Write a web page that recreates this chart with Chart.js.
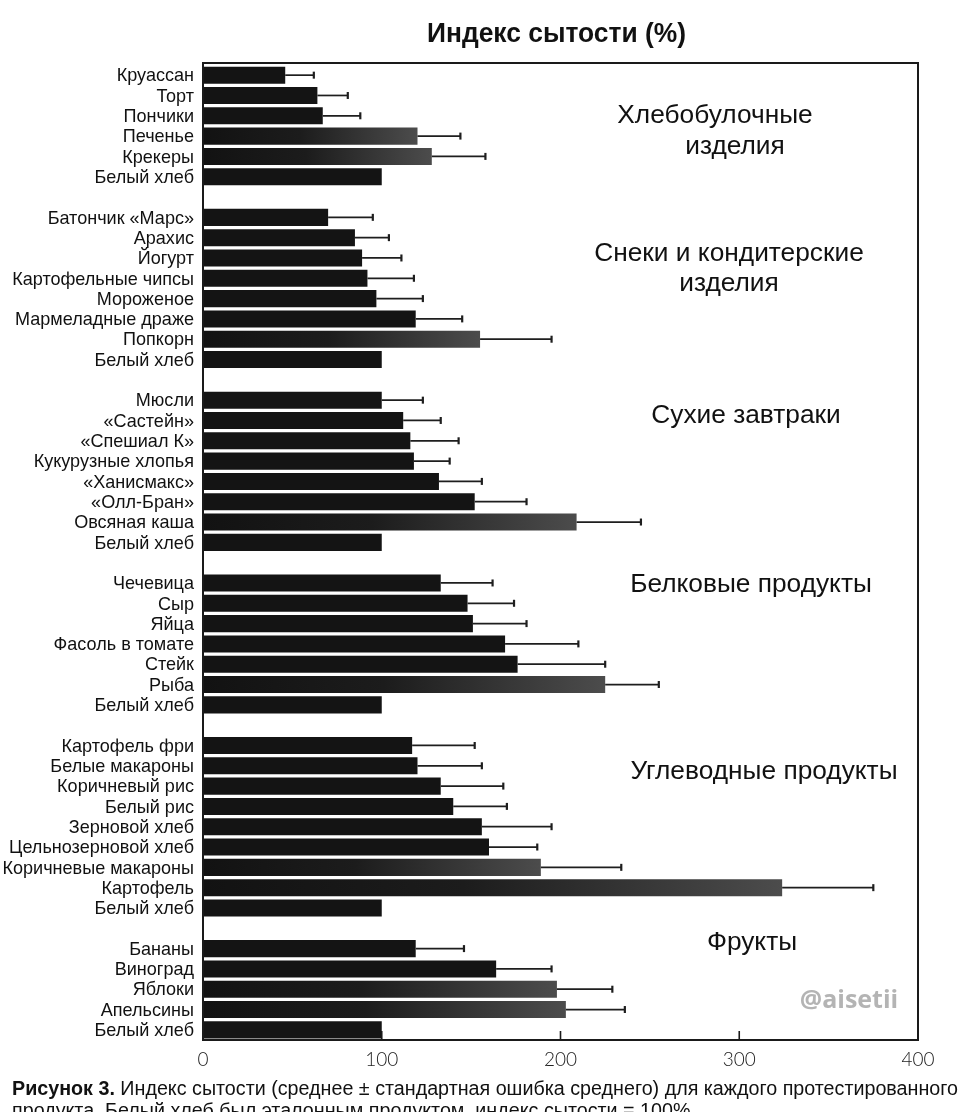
<!DOCTYPE html>
<html><head><meta charset="utf-8">
<script src="https://cdn.jsdelivr.net/npm/chart.js@4.4.0/dist/chart.umd.min.js"></script>
<style>html,body{margin:0;padding:0;background:#fff}canvas{display:block}</style>
</head><body>
<canvas id="c" width="960" height="1112"></canvas>
<script>
// ---------- DATA ----------
const categories = [
  'Круассан','Торт','Пончики','Печенье','Крекеры','Белый хлеб','',
  'Батончик «Марс»','Арахис','Йогурт','Картофельные чипсы','Мороженое','Мармеладные драже','Попкорн','Белый хлеб','',
  'Мюсли','«Састейн»','«Спешиал К»','Кукурузные хлопья','«Ханисмакс»','«Олл-Бран»','Овсяная каша','Белый хлеб','',
  'Чечевица','Сыр','Яйца','Фасоль в томате','Стейк','Рыба','Белый хлеб','',
  'Картофель фри','Белые макароны','Коричневый рис','Белый рис','Зерновой хлеб','Цельнозерновой хлеб','Коричневые макароны','Картофель','Белый хлеб','',
  'Бананы','Виноград','Яблоки','Апельсины','Белый хлеб'
];
const satiety = [
  46, 64, 67, 120, 128, 100, null,
  70, 85, 89, 92, 97, 119, 155, 100, null,
  100, 112, 116, 118, 132, 152, 209, 100, null,
  133, 148, 151, 169, 176, 225, 100, null,
  117, 120, 133, 140, 156, 160, 189, 324, 100, null,
  119, 164, 198, 203, 100
];
const sem = [
  16, 17, 21, 24, 30, null, null,
  25, 19, 22, 26, 26, 26, 40, null, null,
  23, 21, 27, 20, 24, 29, 36, null, null,
  29, 26, 30, 41, 49, 30, null, null,
  35, 36, 35, 30, 39, 27, 45, 51, null, null,
  27, 31, 31, 33, null
];
const xTicks = [0, 100, 200, 300, 400];
const groupTitles = [
  ['Хлебобулочные', 'изделия'],
  ['Снеки и кондитерские', 'изделия'],
  ['Сухие завтраки'],
  ['Белковые продукты'],
  ['Углеводные продукты'],
  ['Фрукты']
];
const chartTitle = 'Индекс сытости (%)';
const captionBold = 'Рисунок 3.';
const captionLine1 = ' Индекс сытости (среднее ± стандартная ошибка среднего) для каждого протестированного';
const captionLine2 = 'продукта. Белый хлеб был эталонным продуктом, индекс сытости = 100%.';
const watermark = '@aisetii';

// ---------- STYLE ----------
const SANS = '"Liberation Sans", Arial, "DejaVu Sans", sans-serif';
const lighterIdx = new Set([3, 4, 13, 22, 30, 39, 40, 45, 46]);
// group title anchors: [slot position, centre x] per line
const titleAnchors = [
  [[2.0, 715], [3.5, 735]],
  [[8.8, 729], [10.27, 729]],
  [[16.76, 746]],
  [[25.1, 751]],
  [[34.3, 764]],
  [[42.7, 752]]
];

function fitText(ctx, txt, x, y, targetW) {
  const w = ctx.measureText(txt).width;
  const s = targetW ? targetW / w : 1;
  ctx.save();
  ctx.translate(x, y);
  ctx.scale(s, 1);
  ctx.fillText(txt, 0, 0);
  ctx.restore();
  return w * s;
}

function barFill(c) {
  const chart = c.chart;
  const i = c.dataIndex;
  const v = satiety[i];
  if (!chart.chartArea || v == null) return '#151515';
  if (!lighterIdx.has(i)) return '#141414';
  const xs = chart.scales.x;
  const x0 = xs.getPixelForValue(0), x1 = xs.getPixelForValue(v);
  const g = chart.ctx.createLinearGradient(x0, 0, x1, 0);
  g.addColorStop(0, '#121212');
  g.addColorStop(0.45, '#1c1c1c');
  g.addColorStop(1, '#4c4c4c');
  return g;
}

const decor = {
  id: 'decor',
  afterDatasetsDraw(chart) {
    const {ctx, chartArea: a, scales: {x, y}} = chart;
    ctx.save();
    // error bars
    ctx.strokeStyle = '#1e1e1e';
    for (let i = 0; i < satiety.length; i++) {
      if (satiety[i] == null || sem[i] == null) continue;
      const yy = y.getPixelForValue(i);
      const xa = x.getPixelForValue(satiety[i]);
      const xb = x.getPixelForValue(satiety[i] + sem[i]);
      ctx.lineWidth = 1.7;
      ctx.beginPath(); ctx.moveTo(xa, yy); ctx.lineTo(xb, yy); ctx.stroke();
      ctx.lineWidth = 2.2;
      ctx.beginPath(); ctx.moveTo(xb, yy - 3.5); ctx.lineTo(xb, yy + 3.5); ctx.stroke();
    }
    // frame
    ctx.strokeStyle = '#1a1a1a';
    ctx.lineWidth = 2;
    ctx.strokeRect(a.left, a.top - 2, a.right - a.left, a.bottom - a.top + 2);
    // inward tick marks
    ctx.lineWidth = 1.6;
    xTicks.forEach(t => {
      const px = x.getPixelForValue(t);
      ctx.beginPath(); ctx.moveTo(px, a.bottom); ctx.lineTo(px, a.bottom - 9); ctx.stroke();
    });
    // category labels (slightly condensed)
    ctx.fillStyle = '#111';
    ctx.font = '19px ' + SANS;
    ctx.textAlign = 'right';
    ctx.textBaseline = 'middle';
    categories.forEach((lab, i) => {
      if (!lab) return;
      const yy = y.getPixelForValue(i) + 1;
      ctx.save();
      ctx.translate(194, yy);
      ctx.scale(0.95, 1);
      ctx.fillText(lab, 0, 0);
      ctx.restore();
    });
    // group titles
    ctx.font = '26.3px ' + SANS;
    ctx.textAlign = 'center';
    groupTitles.forEach((lines, gi) => {
      lines.forEach((txt, li) => {
        const [slot, cx] = titleAnchors[gi][li];
        ctx.fillText(txt, cx, y.getPixelForValue(slot));
      });
    });
    ctx.restore();
  },
  afterDraw(chart) {
    const ctx = chart.ctx;
    ctx.save();
    ctx.fillStyle = '#111';
    ctx.textBaseline = 'alphabetic';
    ctx.textAlign = 'left';
    // title
    ctx.font = 'bold 28px ' + SANS;
    fitText(ctx, chartTitle, 427, 42, 259);
    // watermark
    ctx.fillStyle = '#b4b4b4';
    ctx.textAlign = 'center';
    ctx.textBaseline = 'middle';
    ctx.font = 'bold 25px "Open Sans", ' + SANS;
    ctx.fillText(watermark, 849, 1001);
    // caption
    ctx.textAlign = 'left';
    ctx.textBaseline = 'alphabetic';
    ctx.fillStyle = '#111';
    ctx.font = 'bold 20px ' + SANS;
    const bw0 = ctx.measureText(captionBold).width;
    ctx.font = '20px ' + SANS;
    const rw0 = ctx.measureText(captionLine1).width;
    const s = 946 / (bw0 + rw0);
    ctx.font = 'bold 20px ' + SANS;
    fitText(ctx, captionBold, 12, 1095, bw0 * s);
    ctx.font = '20px ' + SANS;
    fitText(ctx, captionLine1, 12 + bw0 * s, 1095, rw0 * s);
    ctx.save();
    ctx.translate(12, 1117);
    ctx.scale(s, 1);
    ctx.fillText(captionLine2, 0, 0);
    ctx.restore();
    ctx.restore();
  }
};

new Chart(document.getElementById('c'), {
  type: 'bar',
  data: {
    labels: categories,
    datasets: [{
      data: satiety,
      backgroundColor: barFill,
      borderWidth: 0,
      barPercentage: 0.84,
      categoryPercentage: 1
    }]
  },
  options: {
    indexAxis: 'y',
    responsive: false,
    animation: false,
    devicePixelRatio: 1,
    layout: { padding: { top: 65, right: 42, bottom: 0, left: 0 } },
    plugins: { legend: { display: false }, tooltip: { enabled: false }, title: { display: false } },
    scales: {
      x: {
        min: 0, max: 400,
        afterBuildTicks(s) { s.ticks = xTicks.map(v => ({ value: v })); },
        ticks: { font: { family: 'Lato, ' + SANS, size: 19, weight: 300 }, color: '#222', padding: 8, maxRotation: 0 },
        grid: { display: false, drawTicks: false },
        border: { display: false },
        afterFit(s) { s.height = 72; }
      },
      y: {
        ticks: { display: false, autoSkip: false },
        grid: { display: false, drawTicks: false },
        border: { display: false },
        afterFit(s) { s.width = 203; }
      }
    }
  },
  plugins: [decor]
});
</script>
</body></html>
